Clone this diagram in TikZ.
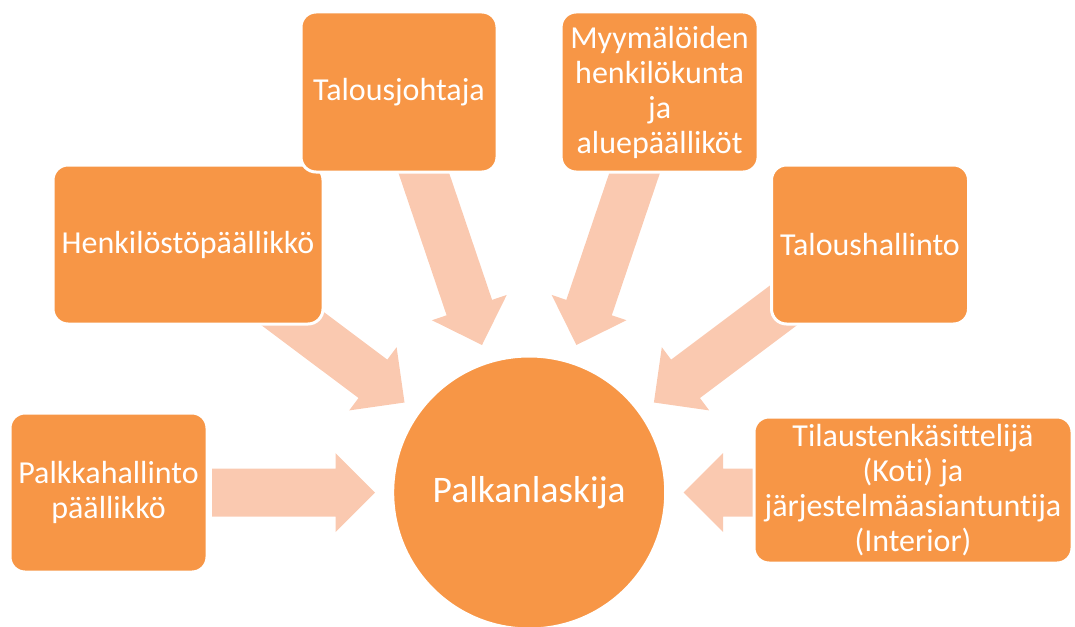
\documentclass[tikz,border=0pt]{standalone}
\usepackage{fontspec}
\setmainfont{Carlito}[Ligatures=NoCommon]
\usetikzlibrary{calc}
\definecolor{boxor}{HTML}{F79646}
\definecolor{arrlt}{HTML}{FAC9B0}
\tikzset{
  box/.style={draw=white, line width=3pt, fill=boxor, rounded corners=15pt,
    text=white, font=\fontsize{32}{35}\selectfont, align=center, inner sep=0pt},
  hub/.style={circle, fill=boxor, draw=white, line width=3pt, text=white,
    font=\fontsize{37.5}{42}\selectfont, minimum size=273pt, inner sep=0pt},
  arr/.style={fill=arrlt},
}
\newcommand\blockarrow[2]{%
  \coordinate (ah) at ($(#2)!39.5pt!(#1)$);
  \fill[arr] ($(#1)!24pt!90:(#2)$) -- ($(ah)!24pt!90:(#2)$) -- ($(ah)!39.5pt!90:(#2)$)
    -- (#2) -- ($(ah)!39.5pt!-90:(#2)$) -- ($(ah)!24pt!-90:(#2)$)
    -- ($(#1)!24pt!-90:(#2)$) -- cycle;}
\begin{document}
\begin{tikzpicture}[x=1pt,y=-1pt]
\useasboundingbox (0,0) rectangle (1075,626);
% arrow ends
\coordinate (paT) at (212,492.5);   \coordinate (paH) at (375,492.5);
\coordinate (tiT) at (790,492.5);   \coordinate (tiH) at (683.5,492.5);
\coordinate (heT) at (260.5,294.5); \coordinate (heH) at (404.5,402.5);
\coordinate (thT) at (797.9,294.5); \coordinate (thH) at (653.9,402.5);
\coordinate (taT) at (415,147);     \coordinate (taH) at (482,345);
\coordinate (myT) at (643.4,147);   \coordinate (myH) at (576.4,345);
\blockarrow{paT}{paH}
\blockarrow{tiT}{tiH}
\blockarrow{heT}{heH}
\blockarrow{thT}{thH}
\blockarrow{taT}{taH}
\blockarrow{myT}{myH}
% boxes
\node[box, minimum width=197pt, minimum height=159pt] (pa) at (108.5,492.5) {Palkkahallinto\\päällikkö};
\node[box, minimum width=270pt, minimum height=159pt] (he) at (188,244.5) {Henkilöstöpäällikkö};
\node[box, minimum width=196pt, minimum height=160pt] (ta) at (399,92) {Talousjohtaja};
\node[box, minimum width=197pt, minimum height=160pt] (my) at (659.6,92) {Myymälöiden\\henkilökunta\\ja\\aluepäälliköt};
\node[box, minimum width=197pt, minimum height=159pt] (th) at (870,244.5) {Taloushallinto};
\node[box, minimum width=318pt, minimum height=146pt] (ti) at (913,490) {Tilaustenkäsittelijä\\(Koti) ja\\järjestelmäasiantuntija\\(Interior)};
\node[hub] (c) at (529.2,492.5) {Palkanlaskija};
\end{tikzpicture}
\end{document}
